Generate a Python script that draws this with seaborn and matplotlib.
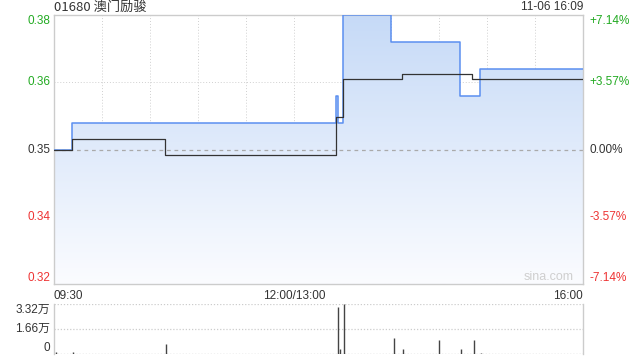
import numpy as np
import pandas as pd
import matplotlib
matplotlib.use("Agg")
import matplotlib.pyplot as plt
import seaborn as sns
from matplotlib.colors import LinearSegmentedColormap

# ---- data (minutes since 09:30, lunch break removed: 0..330) ----
price_t = [0, 11, 176, 177, 180, 210, 253, 266, 330]
price_v = [0.350, 0.355, 0.360, 0.355, 0.375, 0.370, 0.360, 0.365, 0.365]

avg_t = [0, 11, 69, 176, 180, 217, 261, 330]
avg_v = [0.350, 0.352, 0.349, 0.356, 0.3631, 0.364, 0.3631, 0.3631]

vol_t = [1, 12, 70, 177, 178.5, 181, 212, 218, 240, 254, 262, 266.5]
vol_v = [1200, 1500, 6640, 31400, 3300, 33000, 10600, 3300, 9300, 3300, 9300, 900]

prev_close = 0.35
y_ticks = [0.375, 0.3625, 0.35, 0.3375, 0.325]
y_labels = ["0.38", "0.36", "0.35", "0.34", "0.32"]
pct_labels = ["+7.14%", "+3.57%", "0.00%", "-3.57%", "-7.14%"]
vol_ticks = [0, 16600, 33200]
vol_labels = ["0", "1.66万", "3.32万"]
x_labels = ["09:30", "12:00/13:00", "16:00"]
title = "01680 澳门励骏"
stamp = "11-06 16:09"

sns.set_theme(style="white")
plt.rcParams["font.family"] = ["Liberation Sans", "Noto Sans CJK SC", "DejaVu Sans"]

GREEN = "#22aa22"
RED = "#ee3333"
DARK = "#333333"
GRID = "#cccccc"
BLUE = "#5b8ff0"

fig = plt.figure(figsize=(6.4, 3.6), dpi=100)
ax = fig.add_axes([54/640, 1-284/360, (583-54)/640, (284-15)/360])
axv = fig.add_axes([54/640, 1-354/360, (583-54)/640, (354-304)/360])

df_p = pd.DataFrame({"t": price_t, "p": price_v})
df_a = pd.DataFrame({"t": avg_t, "p": avg_v})

ax.set_xlim(0, 330)
ax.set_ylim(0.325, 0.375)

# gradient fill under price line
fill = ax.fill_between(df_p["t"], df_p["p"], 0.325, step="post", color="none", lw=0)
cmap = LinearSegmentedColormap.from_list("g", ["#fbfcff", "#c6daf7"])
grad = np.linspace(0, 1, 256).reshape(-1, 1)
im = ax.imshow(grad, cmap=cmap, aspect="auto", origin="lower",
               extent=[0, 330, 0.325, 0.375], zorder=1)
im.set_clip_path(fill.get_paths()[0], transform=ax.transData)

# grid
for m in range(30, 330, 30):
    ax.axvline(m, color="#d0d0d0", lw=0.7, ls=(0, (1, 2)), zorder=0.5)
for yv in [0.3625, 0.3375]:
    ax.axhline(yv, color="#d0d0d0", lw=0.7, ls=(0, (1, 2)), zorder=0.5)
ax.axhline(prev_close, color="#aaaaaa", lw=0.9, ls=(0, (3, 3)), zorder=2)

sns.lineplot(data=df_p, x="t", y="p", ax=ax, color=BLUE, lw=1.1,
             drawstyle="steps-post", zorder=3, estimator=None, sort=False)
sns.lineplot(data=df_a, x="t", y="p", ax=ax, color=DARK, lw=0.9,
             drawstyle="steps-post", zorder=4, estimator=None, sort=False)

ax.set_xlabel("")
ax.set_ylabel("")
ax.set_xticks([])
ax.set_yticks(y_ticks)
ax.set_yticklabels([])
ax.tick_params(left=False, right=False, bottom=False)
for s in ax.spines.values():
    s.set_color(GRID)
    s.set_linewidth(1.0)

colors = [GREEN, GREEN, DARK, RED, RED]
vas = ["top", "center", "center", "center", "bottom"]
for yv, lab, pl, c, va in zip(y_ticks, y_labels, pct_labels, colors, vas):
    ax.text(-0.006, yv, lab, transform=ax.get_yaxis_transform(), ha="right",
            va=va, color=c, fontsize=8.5)
    ax.text(1.013, yv, pl, transform=ax.get_yaxis_transform(), ha="left",
            va=va, color=c, fontsize=8.5)

ax.text(0, 1.028, title, transform=ax.transAxes, ha="left", va="center",
        fontsize=9.5, color=DARK, family=["Noto Sans CJK SC", "DejaVu Sans"])
ax.text(1, 1.028, stamp, transform=ax.transAxes, ha="right", va="center",
        fontsize=8.5, color=DARK)
ax.text(0.935, 0.003, "sina.com", transform=ax.transAxes, ha="center",
        va="bottom", fontsize=9, color="#cfcfcf", zorder=5)

xl_pos = [0, 150, 330]
xl_ha = ["left", "center", "right"]
for xp, lab, ha in zip(xl_pos, x_labels, xl_ha):
    ax.text(xp, -0.022, lab, transform=ax.get_xaxis_transform(), ha=ha,
            va="top", fontsize=8.5, color=DARK)

# volume
axv.set_xlim(0, 330)
axv.set_ylim(0, 33200)
axv.vlines(vol_t, 0, vol_v, color="#444444", lw=1.0, zorder=3)
for yv in [16600, 33200]:
    axv.axhline(yv, color=GRID, lw=0.9, ls=(0, (1, 1.5)), zorder=0.5)
axv.axhline(0, color="#999999", lw=0.9, ls=(0, (1, 1.5)), zorder=2)
axv.set_xticks([])
axv.set_yticks([])
axv.set_xlabel("")
axv.set_ylabel("")
for k, s in axv.spines.items():
    s.set_color(GRID)
    s.set_linewidth(1.0)
axv.spines["top"].set_visible(False)
axv.spines["bottom"].set_visible(False)
vvas = ["bottom", "center", "top"]
for yv, lab, va in zip(vol_ticks, vol_labels, vvas):
    axv.text(-0.008, yv, lab, transform=axv.get_yaxis_transform(), ha="right",
             va=va, fontsize=8.5, color=DARK)

fig.savefig("out.png", dpi=100)
